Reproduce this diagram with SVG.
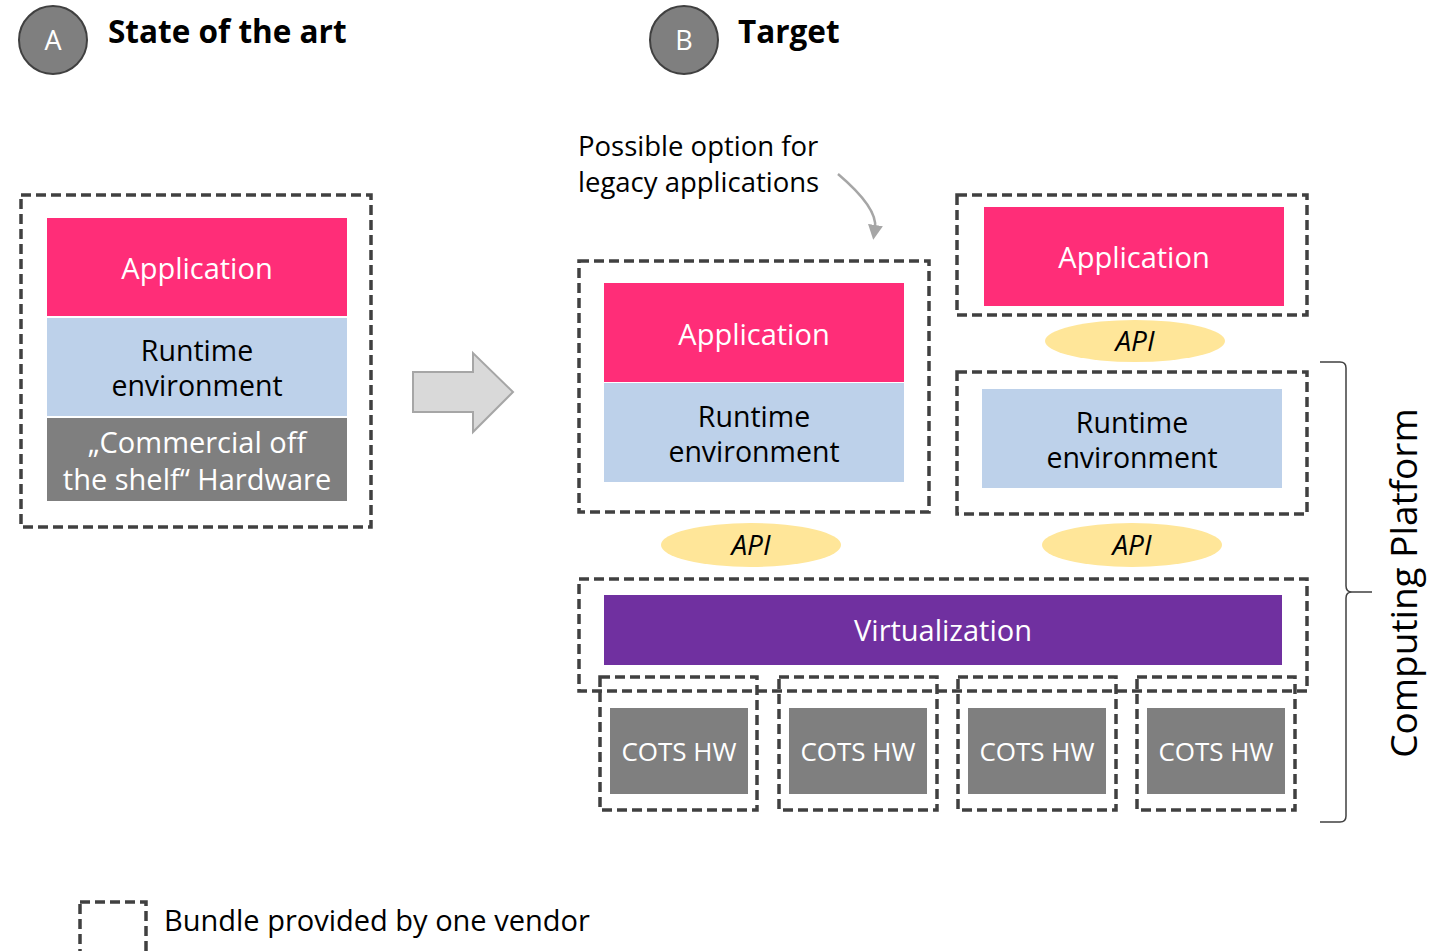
<svg xmlns="http://www.w3.org/2000/svg" width="1432" height="951" viewBox="0 0 1432 951">
  <defs>
    <style>
      text { font-family: "Open Sans", "Noto Sans", "DejaVu Sans", sans-serif; }
      .bundle { fill: none; stroke: #404040; stroke-width: 3.5; stroke-dasharray: 10 5; }
      .app { fill: #ff2d78; }
      .rt { fill: #bdd1ea; }
      .hw { fill: #7f7f7f; }
      .virt { fill: #7030a0; }
      .api { fill: #ffe699; }
      .badge { fill: #7f7f7f; stroke: #404040; stroke-width: 2; }
      .lbl { font-size: 29px; text-anchor: middle; }
      .two { font-size: 28.5px; }
      .cots { font-size: 26px; }
      .white { fill: #ffffff; }
      .dark { fill: #000000; }
      .title { font-size: 31.5px; font-weight: bold; fill: #000000; }
      .apitxt { font-size: 28px; font-style: italic; text-anchor: middle; fill: #000000; }
    </style>
    <marker id="head" viewBox="0 0 10 10" refX="2" refY="5" markerWidth="6" markerHeight="6" orient="auto">
      <path d="M0,0 L10,5 L0,10 z" fill="#a6a6a6"/>
    </marker>
  </defs>
  <rect width="1432" height="951" fill="#ffffff"/>

  <!-- section headings -->
  <g id="heading-a">
    <circle class="badge" cx="53" cy="40" r="34"/>
    <text x="53" y="50" font-size="27" text-anchor="middle" class="white">A</text>
    <text x="108" y="43" class="title">State of the art</text>
  </g>
  <g id="heading-b">
    <circle class="badge" cx="684" cy="40" r="34"/>
    <text x="684" y="50" font-size="27" text-anchor="middle" class="white">B</text>
    <text x="738" y="43" class="title">Target</text>
  </g>

  <!-- A: monolithic stack -->
  <g id="stack-a">
    <rect class="bundle" x="21" y="195" width="350" height="332"/>
    <rect class="app" x="47" y="218" width="300" height="98"/>
    <text class="lbl white" x="197" y="279">Application</text>
    <rect class="rt" x="47" y="318" width="300" height="98"/>
    <text class="lbl two dark" x="197" y="361">Runtime</text>
    <text class="lbl two dark" x="197" y="396">environment</text>
    <rect class="hw" x="47" y="418" width="300" height="83"/>
    <text class="lbl white" x="197" y="453" font-size="27">„Commercial off</text>
    <text class="lbl white" x="197" y="490" font-size="27">the shelf“ Hardware</text>
  </g>

  <!-- transition arrow -->
  <g id="transition">
    <path d="M413,372 L473,372 L473,353 L513,392 L473,432 L473,412 L413,412 Z" fill="#d9d9d9" stroke="#a6a6a6" stroke-width="2"/>
  </g>

  <!-- B: legacy bundle -->
  <g id="legacy-bundle">
    <rect class="bundle" x="579" y="261" width="350" height="251"/>
    <rect class="app" x="604" y="283" width="300" height="99"/>
    <text class="lbl white" x="754" y="345">Application</text>
    <rect class="rt" x="604" y="383" width="300" height="99"/>
    <text class="lbl two dark" x="754" y="427">Runtime</text>
    <text class="lbl two dark" x="754" y="462">environment</text>
  </g>

  <g id="legacy-note">
    <text x="578" y="156" font-size="27.5" class="dark">Possible option for</text>
    <text x="578" y="192" font-size="27.5" class="dark">legacy applications</text>
  </g>

  <!-- B: separate application -->
  <g id="app-bundle">
    <rect class="bundle" x="957" y="195" width="350" height="120"/>
    <rect class="app" x="984" y="207" width="300" height="99"/>
    <text class="lbl white" x="1134" y="268">Application</text>
  </g>

  <g id="api-top">
    <ellipse class="api" cx="1135" cy="341" rx="90" ry="21"/>
    <text class="apitxt" x="1135" y="351">API</text>
  </g>

  <g id="runtime-bundle">
    <rect class="bundle" x="957" y="372" width="350" height="142"/>
    <rect class="rt" x="982" y="389" width="300" height="99"/>
    <text class="lbl two dark" x="1132" y="433">Runtime</text>
    <text class="lbl two dark" x="1132" y="468">environment</text>
  </g>

  <g id="api-left">
    <ellipse class="api" cx="751" cy="545" rx="90" ry="22"/>
    <text class="apitxt" x="751" y="555">API</text>
  </g>
  <g id="api-right">
    <ellipse class="api" cx="1132" cy="545" rx="90" ry="22"/>
    <text class="apitxt" x="1132" y="555">API</text>
  </g>

  <g id="virtualization">
    <rect class="bundle" x="579" y="579" width="728" height="112"/>
    <rect class="virt" x="604" y="595" width="678" height="70"/>
    <text class="lbl white" x="943" y="641">Virtualization</text>
  </g>

  <g id="cots-1">
    <rect class="bundle" x="600" y="677" width="157" height="133"/>
    <rect class="hw" x="610" y="708" width="138" height="86"/>
    <text class="lbl cots white" x="679" y="761">COTS HW</text>
  </g>
  <g id="cots-2">
    <rect class="bundle" x="779" y="677" width="158" height="133"/>
    <rect class="hw" x="789" y="708" width="138" height="86"/>
    <text class="lbl cots white" x="858" y="761">COTS HW</text>
  </g>
  <g id="cots-3">
    <rect class="bundle" x="958" y="677" width="158" height="133"/>
    <rect class="hw" x="968" y="708" width="138" height="86"/>
    <text class="lbl cots white" x="1037" y="761">COTS HW</text>
  </g>
  <g id="cots-4">
    <rect class="bundle" x="1137" y="677" width="158" height="133"/>
    <rect class="hw" x="1147" y="708" width="138" height="86"/>
    <text class="lbl cots white" x="1216" y="761">COTS HW</text>
  </g>

  <!-- platform brace and label -->
  <g id="platform">
    <path d="M1320,362 L1340,362 Q1346,362 1346,368 L1346,586 Q1346,592 1352,592 L1372,592 M1352,592 Q1346,592 1346,598 L1346,816 Q1346,822 1340,822 L1320,822" fill="none" stroke="#404040" stroke-width="1.5"/>
    <text x="0" y="0" font-size="37" text-anchor="middle" class="dark" transform="translate(1417,583) rotate(-90)">Computing Platform</text>
  </g>

  <!-- legend -->
  <g id="legend">
    <rect class="bundle" x="80" y="902" width="66" height="60"/>
    <text x="164" y="931" font-size="29" class="dark">Bundle provided by one vendor</text>
  </g>

  <!-- connectors -->
  <g id="connectors">
    <path d="M838,174 Q878,208 875,228" fill="none" stroke="#a6a6a6" stroke-width="2.5" marker-end="url(#head)"/>
  </g>
</svg>
